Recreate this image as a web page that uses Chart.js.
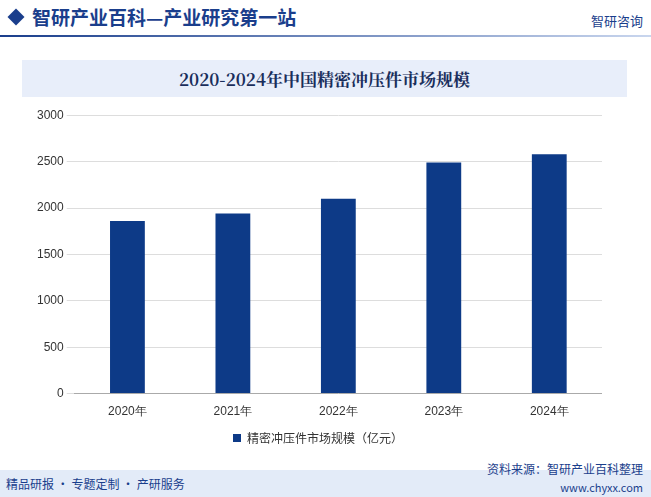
<!DOCTYPE html>
<html><head><meta charset="utf-8">
<script src="https://cdn.jsdelivr.net/npm/chart.js@4"></script>
<style>
body{margin:0;width:651px;height:497px;position:relative;background:#fff;font-family:"Noto Sans CJK SC",sans-serif;overflow:hidden}
#hd{position:absolute;left:0;top:0;width:651px;height:40px}
#dia{position:absolute;left:10px;top:11px;width:12px;height:12px;background:#1a3e8c;transform:rotate(45deg)}
#ht{position:absolute;left:32px;top:3px;font-size:19px;color:#1a3e8c;font-weight:bold}
#hl{position:absolute;left:0;top:35px;width:651px;height:2px;background:linear-gradient(90deg,#1a3e8c,#c9d6ee)}
#logo{position:absolute;right:8px;top:11px;font-size:13px;color:#1a3e8c}
#tb{position:absolute;left:22px;top:60px;width:605px;height:37px;background:#e8eefa;text-align:center;line-height:37px;font-size:17px;font-weight:bold;color:#1a2e5c;font-family:"Noto Serif CJK SC","Noto Sans CJK SC",serif}
#ft{position:absolute;left:0;top:470px;width:651px;height:27px;background:#e3ebf8}
#f1{position:absolute;left:6px;top:475px;font-size:12px;color:#1a3e8c}
#f2{position:absolute;right:8px;top:460px;font-size:12px;color:#1a3e8c}
#f3{position:absolute;right:8px;top:479px;font-size:11px;color:#1a3e8c}
#c{position:absolute;left:34px;top:105px}
</style></head><body>
<div id="hd"><div id="dia"></div><div id="ht">智研产业百科—产业研究第一站</div><div id="hl"></div><div id="logo">智研咨询</div></div>
<div id="tb">2020-2024年中国精密冲压件市场规模</div>
<canvas id="c" width="568" height="349" style="width:568px;height:349px"></canvas>
<div id="ft"></div>
<div id="f1">精品研报 · 专题定制 · 产研服务</div>
<div id="f2">资料来源：智研产业百科整理</div>
<div id="f3">www.chyxx.com</div>
<script>
const categories=["2020年","2021年","2022年","2023年","2024年"];
const values=[1860,1940,2100,2490,2580];
const seriesName="精密冲压件市场规模（亿元）";
new Chart(document.getElementById('c'),{type:'bar',
data:{labels:categories,datasets:[{label:seriesName,data:values,backgroundColor:'#0d3a87',barPercentage:0.33,categoryPercentage:1}]},
options:{responsive:false,animation:false,
layout:{padding:{right:0,top:0}},
plugins:{legend:{position:'bottom',labels:{boxWidth:8,boxHeight:8,color:'#333',font:{size:12,family:'Noto Sans CJK SC'}}}},
scales:{x:{grid:{display:false},border:{color:'#aaa'},ticks:{color:'#333',font:{size:12}}},
y:{min:0,max:3000,ticks:{stepSize:500,color:'#333',font:{size:12},callback:v=>String(v)},border:{display:false},grid:{color:'#ddd'}}}}});
</script></body></html>
